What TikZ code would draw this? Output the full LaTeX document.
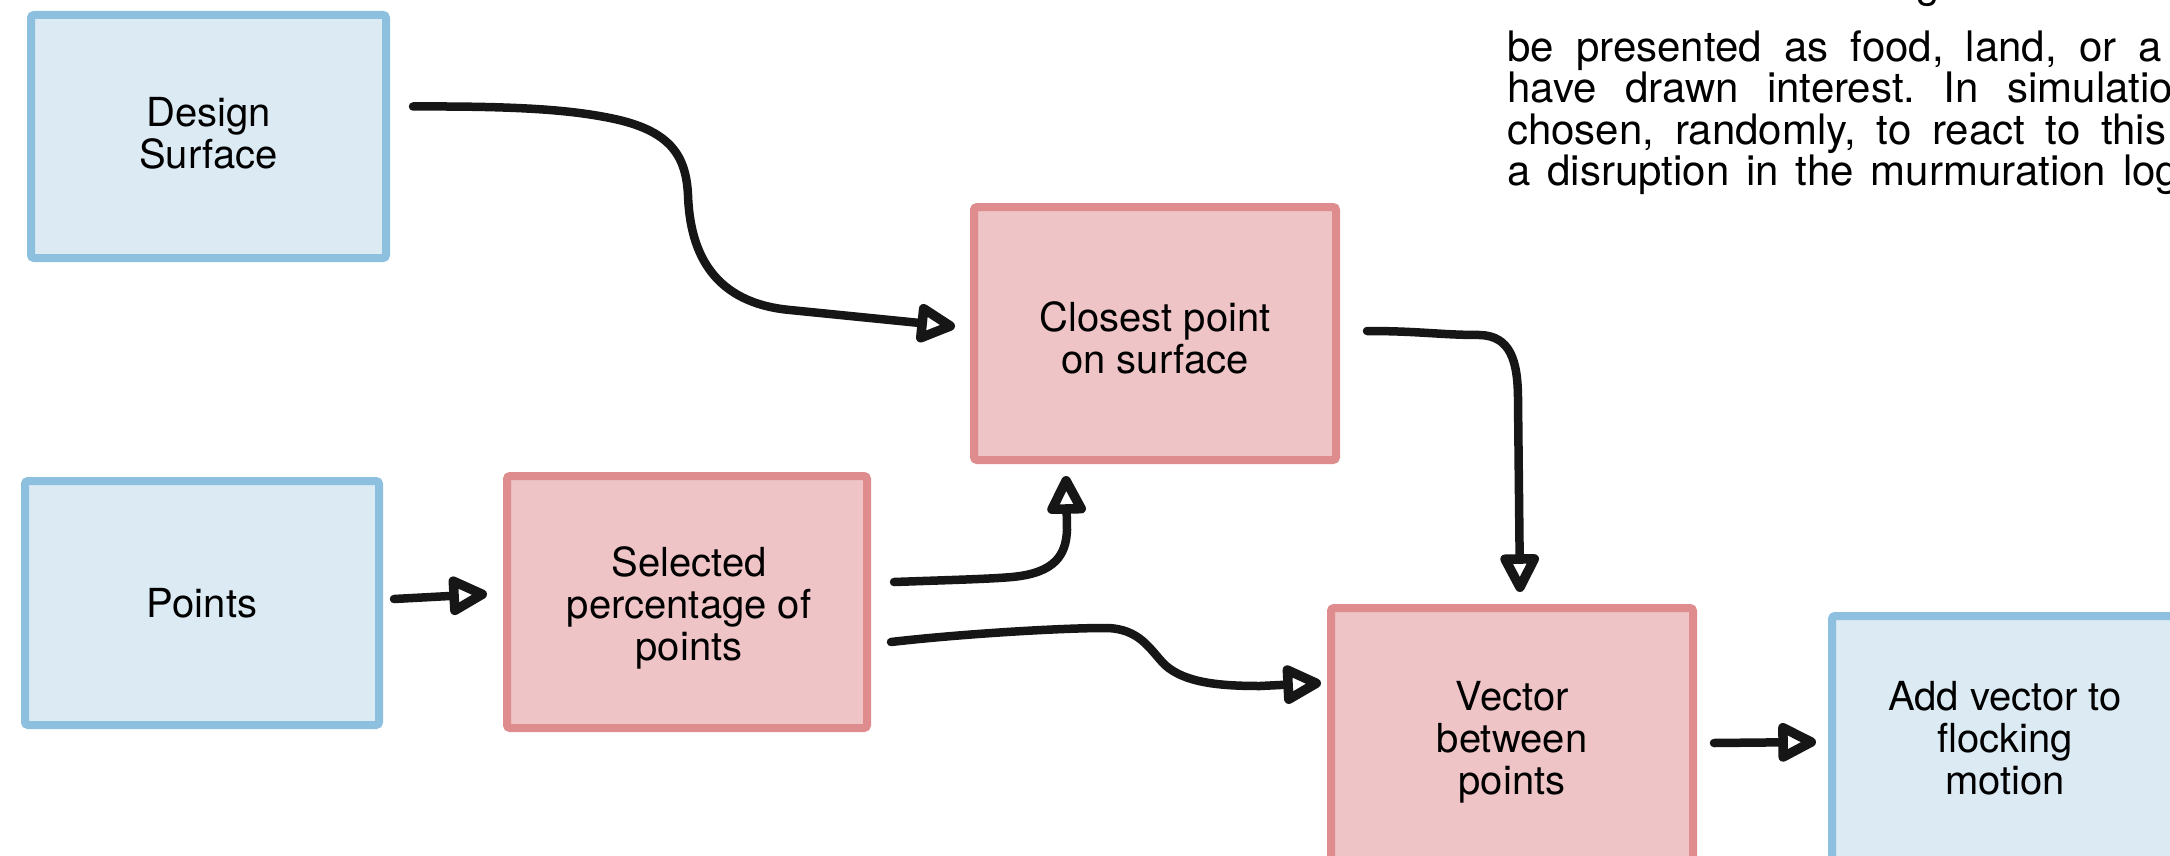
\documentclass[tikz,border=0pt]{standalone}
\usepackage{fontspec}
\setmainfont{TeX Gyre Heros}
\usetikzlibrary{arrows.meta,calc}
\definecolor{bluefill}{RGB}{220,234,243}
\definecolor{blueline}{RGB}{141,192,223}
\definecolor{redfill}{RGB}{238,196,198}
\definecolor{redline}{RGB}{222,140,142}
\definecolor{ink}{RGB}{22,22,22}

\begin{document}
\frenchspacing
\begin{tikzpicture}[x=1pt,y=-1pt,
  box/.style={draw, line width=8pt, rounded corners=3pt, inner sep=0pt},
  bluebox/.style={box, draw=blueline, fill=bluefill},
  redbox/.style={box, draw=redline, fill=redfill},
  boxtext/.style={inner sep=0pt, align=center, font=\fontsize{40}{42}\selectfont},
  conn/.style={draw=ink, line width=8.5pt, line cap=round, line join=round,
    -{Triangle[open,round,length=44pt,width=42pt,line width=9.5pt]}},
  para/.style={anchor=base west, inner sep=0pt, font=\fontsize{42}{41}\selectfont}]

\useasboundingbox (0,0) rectangle (2170,856);
\clip (0,0) rectangle (2170,856);
\fill[white] (0,0) rectangle (2170,856);

% process boxes
\node[bluebox, minimum width=355pt, minimum height=243pt] (ds) at (208.5,136.5) {};
\node[bluebox, minimum width=354pt, minimum height=244pt] (pt) at (202,603) {};
\node[redbox, minimum width=360pt, minimum height=252pt] (sp) at (687,602) {};
\node[redbox, minimum width=362pt, minimum height=253pt] (cp) at (1155,333.5) {};
\node[redbox, minimum width=362pt, minimum height=258pt] (vb) at (1512,737) {};
\node[bluebox, minimum width=354pt, minimum height=250pt] (av) at (2009,741) {};

% box labels
\node[boxtext] (dsl) at ($(ds.center)+(0,-3)$) {Design\\Surface};
\node[boxtext] (ptl) at (pt.center) {Points};
\node[boxtext] (spl) at ($(sp.center)+(2,6)$) {Selected\\percentage of\\points};
\node[boxtext] (cpl) at ($(cp.center)+(0,4)$) {Closest point\\on surface};
\node[boxtext] (vbl) at ($(vb.center)+(0,5)$) {Vector\\between\\points};
\node[boxtext] (avl) at ($(av.center)+(-4,-3)$) {Add vector to\\flocking\\motion};

% connectors
\draw[conn] ($(ds.east)+(23,-30)$)
  .. controls (520,106) and (570,110) .. (610,118)
  .. controls (670,130) and (686,155) .. (688,195)
  .. controls (690,255) and (715,303) .. (790,310)
  -- ($(cp.west)+(-15,-7)$);
\draw[conn] ($(pt.east)+(11,-4)$) -- ($(sp.west)+(-16,-8)$);
\draw[conn] ($(sp.east)+(23,-20)$)
  .. controls (950,580) and (990,579) .. (1012,577)
  .. controls (1055,573) and (1066,555) .. (1067,530)
  -- ($(cp.south)+(-89,12)$);
\draw[conn] ($(sp.east)+(20,40)$)
  .. controls (960,634) and (1060,628) .. (1105,628)
  .. controls (1140,628) and (1150,650) .. (1165,665)
  .. controls (1185,683) and (1220,686) .. (1260,686)
  -- ($(vb.west)+(-6,-54)$);
\draw[conn] ($(cp.east)+(27,-2.5)$)
  .. controls (1420,331) and (1440,335) .. (1480,335)
  .. controls (1510,336) and (1518,360) .. (1518,400)
  -- ($(vb.north)+(8,-12)$);
\draw[conn] ($(vb.east)+(17,6)$) -- ($(av.west)+(-12,1)$);

% text column at the top right
\node[para] (l0) at (1916,-2) {g};
\node[para] (l1) at (1507,62) {\makebox[655pt][s]{be presented as food, land, or a}};
\node[para] (l2) at (1507,103) {\makebox[666pt][s]{have drawn interest. In simulatio}};
\node[para] (l3) at (1507,144) {\makebox[659pt][s]{chosen, randomly, to react to this}};
\node[para] (l4) at (1507,185) {\makebox[672pt][s]{a disruption in the murmuration log}};
\end{tikzpicture}
\end{document}
